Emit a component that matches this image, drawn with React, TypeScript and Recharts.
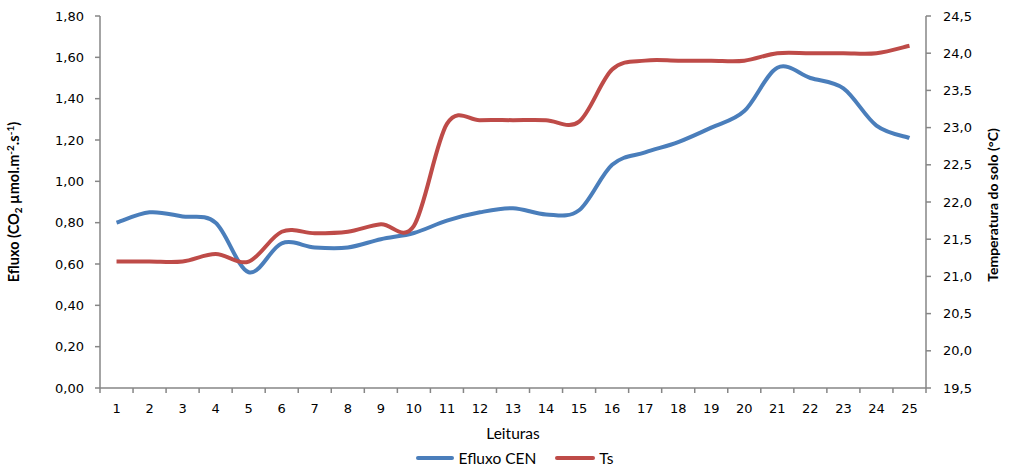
import React from 'react';
import { LineChart, Line, XAxis, YAxis, Legend, Label } from 'recharts';

const leituras = ['1', '2', '3', '4', '5', '6', '7', '8', '9', '10', '11', '12', '13', '14', '15', '16', '17', '18', '19', '20', '21', '22', '23', '24', '25'];
const efluxoCEN = [0.80, 0.85, 0.83, 0.80, 0.56, 0.70, 0.68, 0.68, 0.72, 0.75, 0.81, 0.85, 0.87, 0.84, 0.86, 1.08, 1.14, 1.19, 1.26, 1.34, 1.55, 1.50, 1.45, 1.27, 1.21];
const tsSolo = [21.2, 21.2, 21.2, 21.3, 21.2, 21.6, 21.58, 21.6, 21.7, 21.68, 23.05, 23.1, 23.1, 23.1, 23.08, 23.78, 23.9, 23.9, 23.9, 23.9, 24.0, 24.0, 24.0, 24.0, 24.1];
const efluxoTicks = [0, 0.2, 0.4, 0.6, 0.8, 1.0, 1.2, 1.4, 1.6, 1.8];
const tempTicks = [19.5, 20.0, 20.5, 21.0, 21.5, 22.0, 22.5, 23.0, 23.5, 24.0, 24.5];

const rows = leituras.map((leitura, i) => ({ leitura, efluxo: efluxoCEN[i], ts: tsSolo[i] }));

const BLUE = '#4a7ebb';
const RED = '#be4b48';
const AXIS = '#868686';
const TICK_FONT = '"DejaVu Sans", sans-serif';
const TITLE_FONT = 'Lato, "Open Sans", sans-serif';

const W = 1011;
const H = 469;
const LEFT_W = 100;
const RIGHT_W = 85;
const BAND = (W - LEFT_W - RIGHT_W) / leituras.length;

// spreadsheet-style smoothed line: cubic Bézier through every point
const smoothCurve = (context: any) => {
  let pts: [number, number][] = [];
  return {
    areaStart() {},
    areaEnd() {},
    lineStart() {
      pts = [];
    },
    lineEnd() {
      if (!pts.length) return;
      context.moveTo(pts[0][0], pts[0][1]);
      for (let i = 0; i < pts.length - 1; i++) {
        const p0 = pts[Math.max(i - 1, 0)];
        const p1 = pts[i];
        const p2 = pts[i + 1];
        const p3 = pts[Math.min(i + 2, pts.length - 1)];
        context.bezierCurveTo(
          p1[0] + (p2[0] - p0[0]) / 6,
          p1[1] + (p2[1] - p0[1]) / 6,
          p2[0] - (p3[0] - p1[0]) / 6,
          p2[1] - (p3[1] - p1[1]) / 6,
          p2[0],
          p2[1]
        );
      }
    },
    point(x: number, y: number) {
      pts.push([+x, +y]);
    },
  };
};

const comma = (v: number, d: number) => v.toFixed(d).replace('.', ',');

// category labels with tick marks on the band boundaries
const XTick = (props: any) => {
  const { x, y, payload, index } = props;
  const last = index === leituras.length - 1;
  return (
    <g>
      <line x1={x - BAND / 2} x2={x - BAND / 2} y1={y} y2={y + 5} stroke={AXIS} strokeWidth={1.5} />
      {last && <line x1={x + BAND / 2} x2={x + BAND / 2} y1={y} y2={y + 5} stroke={AXIS} strokeWidth={1.5} />}
      <text x={x} y={y + 25} textAnchor="middle" fontFamily={TICK_FONT} fontSize={13} fill="#000">
        {payload.value}
      </text>
    </g>
  );
};

const FluxTitle = (props: any) => {
  const { viewBox } = props;
  const cx = viewBox.x + 19;
  const cy = viewBox.y + viewBox.height / 2;
  return (
    <text transform={`translate(${cx},${cy}) rotate(-90)`} textAnchor="middle" fontFamily={TITLE_FONT} fontWeight="bold" fontSize={14.5} fill="#000">
      Efluxo (CO<tspan fontSize={10} dy={3}>2</tspan>
      <tspan dy={-3}> µmol.m</tspan>
      <tspan fontSize={10} dy={-5}>-2</tspan>
      <tspan dy={5}>.s</tspan>
      <tspan fontSize={10} dy={-5}>-1</tspan>
      <tspan dy={5}>)</tspan>
    </text>
  );
};

const TempTitle = (props: any) => {
  const { viewBox } = props;
  const cx = viewBox.x + viewBox.width - 13;
  const cy = viewBox.y + viewBox.height / 2 + 3;
  return (
    <text transform={`translate(${cx},${cy}) rotate(-90)`} textAnchor="middle" fontFamily={TITLE_FONT} fontWeight="bold" fontSize={14} fill="#000">
      Temperatura do solo (°C)
    </text>
  );
};

const LegendBox = () => (
  <div style={{ display: 'flex', justifyContent: 'center', alignItems: 'center', fontFamily: TITLE_FONT, fontSize: 15.5, color: '#000', height: 22, paddingLeft: 18 }}>
    <span style={{ display: 'inline-block', width: 38, height: 4, background: BLUE, borderRadius: 2, marginRight: 5 }} />
    <span style={{ marginRight: 19 }}>Efluxo CEN</span>
    <span style={{ display: 'inline-block', width: 40, height: 4, background: RED, borderRadius: 2, marginRight: 4 }} />
    <span>Ts</span>
  </div>
);

export default function App() {
  return (
    <div style={{ position: 'absolute', left: 0, top: 0, background: '#fff' }}>
      <LineChart width={W} height={H} data={rows} margin={{ top: 16, right: 0, bottom: 0, left: 0 }}>
        <XAxis
          dataKey="leitura"
          scale="band"
          height={59}
          stroke={AXIS}
          strokeWidth={1.5}
          tickLine={false}
          tickSize={0}
          tickMargin={0}
          interval={0}
          tick={<XTick />}
        >
          <Label value="Leituras" position="insideBottom" offset={8} fontFamily={TITLE_FONT} fontSize={15.5} fill="#000" />
        </XAxis>
        <YAxis
          yAxisId="flux"
          width={LEFT_W}
          domain={[0, 1.8]}
          ticks={efluxoTicks}
          interval={0}
          tickFormatter={(v: number) => comma(v, 2)}
          stroke={AXIS}
          strokeWidth={1.5}
          tickSize={5}
          tickMargin={11}
          tick={{ fontFamily: TICK_FONT, fontSize: 13, fill: '#000' }}
        >
          <Label content={<FluxTitle />} />
        </YAxis>
        <YAxis
          yAxisId="temp"
          orientation="right"
          width={RIGHT_W}
          domain={[19.5, 24.5]}
          ticks={tempTicks}
          interval={0}
          tickFormatter={(v: number) => comma(v, 1)}
          stroke={AXIS}
          strokeWidth={1.5}
          tickSize={5}
          tickMargin={12}
          tick={{ fontFamily: TICK_FONT, fontSize: 13, fill: '#000', textAnchor: 'start' }}
        >
          <Label content={<TempTitle />} />
        </YAxis>
        <Legend verticalAlign="bottom" height={22} content={<LegendBox />} />
        <Line
          yAxisId="flux"
          dataKey="efluxo"
          name="Efluxo CEN"
          type={smoothCurve as any}
          stroke={BLUE}
          strokeWidth={4}
          dot={false}
          isAnimationActive={false}
        />
        <Line
          yAxisId="temp"
          dataKey="ts"
          name="Ts"
          type={smoothCurve as any}
          stroke={RED}
          strokeWidth={4}
          dot={false}
          isAnimationActive={false}
        />
      </LineChart>
    </div>
  );
}
